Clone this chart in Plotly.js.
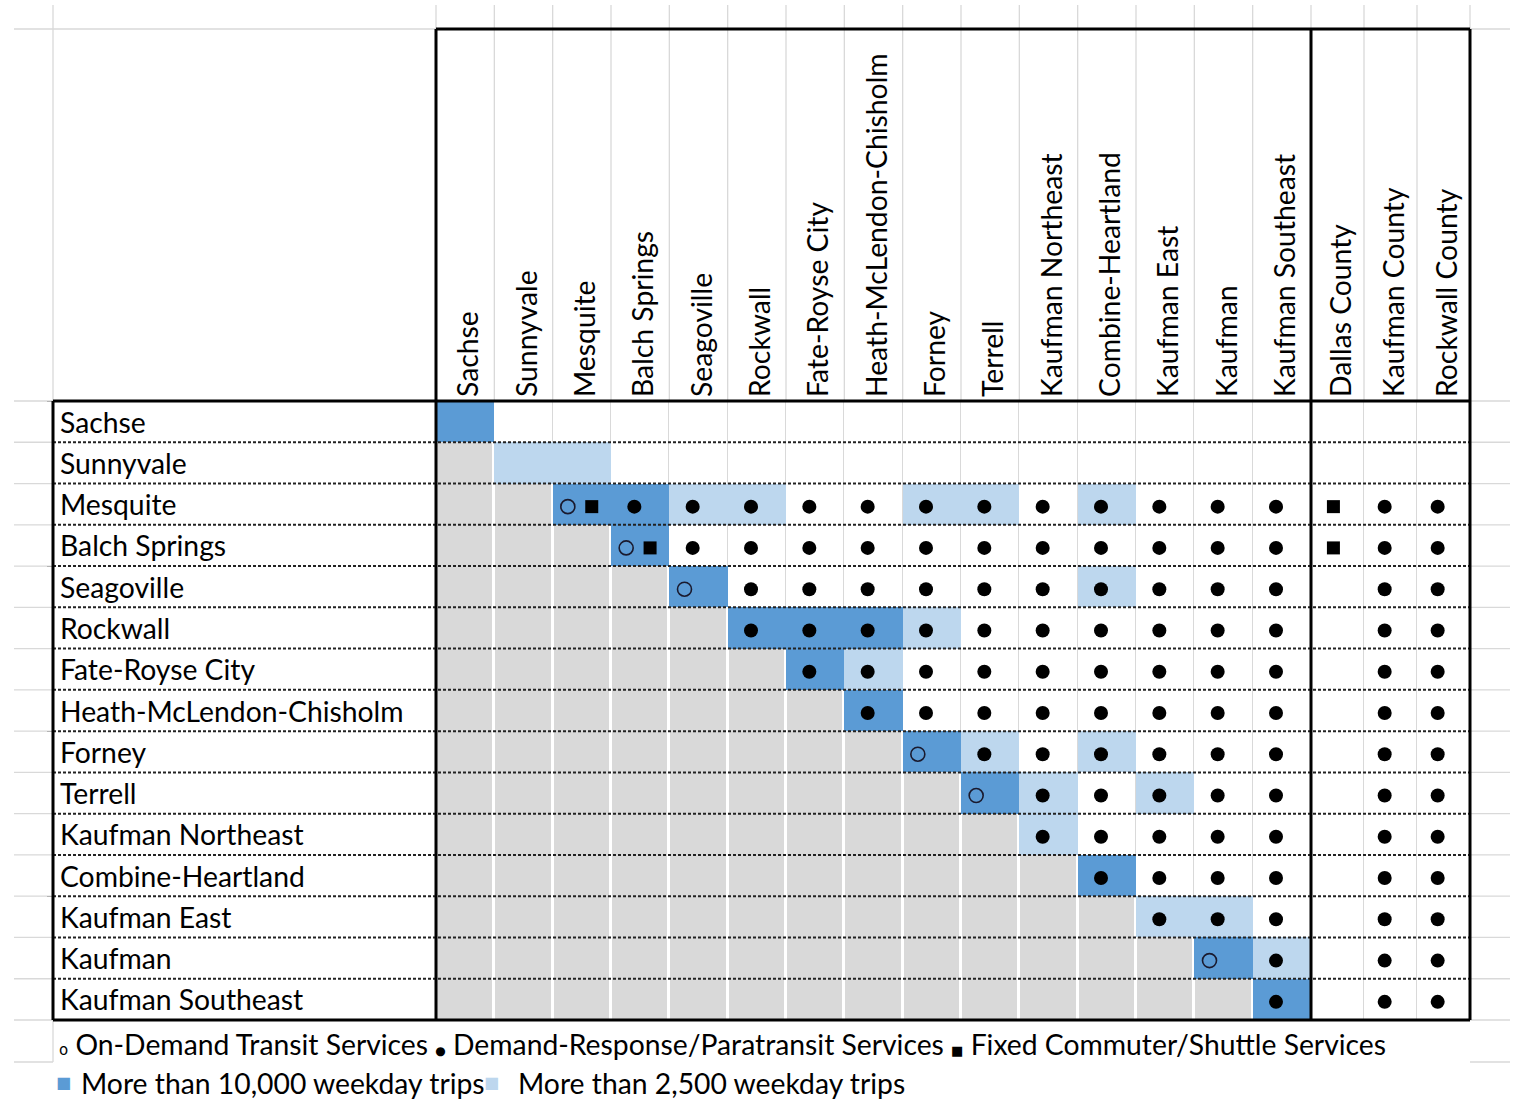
<!DOCTYPE html>
<html><head><meta charset="utf-8">
<script src="https://cdn.plot.ly/plotly-3.0.1.min.js"></script>
<style>html,body{margin:0;padding:0;background:#fff}#chart{width:1519px;height:1100px}</style>
</head><body><div id="chart"></div>
<script>
// ---------------- DATA ----------------
const rowLabels = ['Sachse','Sunnyvale','Mesquite','Balch Springs','Seagoville','Rockwall','Fate-Royse City',
  'Heath-McLendon-Chisholm','Forney','Terrell','Kaufman Northeast','Combine-Heartland','Kaufman East','Kaufman','Kaufman Southeast'];
const countyLabels = ['Dallas County','Kaufman County','Rockwall County'];
const colLabels = rowLabels.concat(countyLabels);

// 0 = none, 1 = more than 2,500 weekday trips, 2 = more than 10,000 weekday trips
const tripLevels = [
  [2,0,0,0,0,0,0,0,0,0,0,0,0,0,0, 0,0,0],
  [0,1,1,0,0,0,0,0,0,0,0,0,0,0,0, 0,0,0],
  [0,0,2,2,1,1,0,0,1,1,0,1,0,0,0, 0,0,0],
  [0,0,0,2,0,0,0,0,0,0,0,0,0,0,0, 0,0,0],
  [0,0,0,0,2,0,0,0,0,0,0,1,0,0,0, 0,0,0],
  [0,0,0,0,0,2,2,2,1,0,0,0,0,0,0, 0,0,0],
  [0,0,0,0,0,0,2,1,0,0,0,0,0,0,0, 0,0,0],
  [0,0,0,0,0,0,0,2,0,0,0,0,0,0,0, 0,0,0],
  [0,0,0,0,0,0,0,0,2,1,0,1,0,0,0, 0,0,0],
  [0,0,0,0,0,0,0,0,0,2,1,0,1,0,0, 0,0,0],
  [0,0,0,0,0,0,0,0,0,0,1,0,0,0,0, 0,0,0],
  [0,0,0,0,0,0,0,0,0,0,0,2,0,0,0, 0,0,0],
  [0,0,0,0,0,0,0,0,0,0,0,0,1,1,0, 0,0,0],
  [0,0,0,0,0,0,0,0,0,0,0,0,0,2,1, 0,0,0],
  [0,0,0,0,0,0,0,0,0,0,0,0,0,0,2, 0,0,0]
];

// o = On-Demand Transit, d = Demand-Response/Paratransit, s = Fixed Commuter/Shuttle
const services = [
  ['','','','','','','','','','','','','','','', '','',''],
  ['','','','','','','','','','','','','','','', '','',''],
  ['','','os','d','d','d','d','d','d','d','d','d','d','d','d', 's','d','d'],
  ['','','','os','d','d','d','d','d','d','d','d','d','d','d', 's','d','d'],
  ['','','','','o','d','d','d','d','d','d','d','d','d','d', '','d','d'],
  ['','','','','','d','d','d','d','d','d','d','d','d','d', '','d','d'],
  ['','','','','','','d','d','d','d','d','d','d','d','d', '','d','d'],
  ['','','','','','','','d','d','d','d','d','d','d','d', '','d','d'],
  ['','','','','','','','','o','d','d','d','d','d','d', '','d','d'],
  ['','','','','','','','','','o','d','d','d','d','d', '','d','d'],
  ['','','','','','','','','','','d','d','d','d','d', '','d','d'],
  ['','','','','','','','','','','','d','d','d','d', '','d','d'],
  ['','','','','','','','','','','','','d','d','d', '','d','d'],
  ['','','','','','','','','','','','','','o','d', '','d','d'],
  ['','','','','','','','','','','','','','','d', '','d','d']
];

const serviceLegend = ['On-Demand Transit Services','Demand-Response/Paratransit Services','Fixed Commuter/Shuttle Services'];
const tripLegend = ['More than 10,000 weekday trips','More than 2,500 weekday trips'];

// ---------------- STYLE / LAYOUT ----------------
const DARK = '#5b9bd5', LIGHT = '#bdd7ee', GREY = '#d9d9d9', GRID = '#d9d9d9', WHITE = '#ffffff';
const FONT = 'Lato, "Open Sans", sans-serif';
const FS = 28.3;
const W = 1519, H = 1100;
const M = {l: 53, r: 49, t: 401, b: 80};
const plotW = W - M.l - M.r, plotH = H - M.t - M.b;
const nCity = rowLabels.length;
const pxU = 875 / nCity;            // pixels per city column
const labelW = 383 / pxU;           // label column width in column units
const countyW = 53 / pxU;           // county column width in column units
const xEdges = [];
for (let j = 0; j <= nCity; j++) xEdges.push(j);
for (let k = 1; k <= countyLabels.length; k++) xEdges.push(nCity + k * countyW);
const xMin = -labelW, xMax = xEdges[xEdges.length - 1];
const yEdges = [];
for (let i = 0; i <= rowLabels.length; i++) yEdges.push(i);
const nRow = rowLabels.length;

const colCenter = j => (xEdges[j] + xEdges[j + 1]) / 2;
const pxX = px => (px - M.l) / plotW;          // pixel -> paper x
const pxY = px => (M.t + plotH - px) / plotH;  // pixel -> paper y
const dX = x => (x - xMin) / (xMax - xMin);     // data x -> paper x
const dY = y => 1 - y / nRow;                   // data y -> paper y

const isGrey = (i, j) => j < nCity && j < i;

const zBase = [], zWhite = [], zGrey = [], zColor = [];
for (let i = 0; i < nRow; i++) {
  zBase.push([]); zWhite.push([]); zGrey.push([]); zColor.push([]);
  for (let j = 0; j < colLabels.length; j++) {
    const g = isGrey(i, j), lv = tripLevels[i][j];
    zBase[i].push(g ? 1 : 0);
    zGrey[i].push(g ? 1 : null);
    zWhite[i].push(!g && lv === 0 ? 1 : null);
    zColor[i].push(!g && lv > 0 ? lv : null);
  }
}
const flat = c => [[0, c], [1, c]];
const hm = (z, cs, gap, extra) => Object.assign({
  type: 'heatmap', x: xEdges, y: yEdges, z: z, colorscale: cs, showscale: false,
  xgap: gap, ygap: 0, hoverinfo: 'skip', zsmooth: false
}, extra || {});

const traces = [
  hm(zBase, [[0, GRID], [0.5, GRID], [0.5, WHITE], [1, WHITE]], 0, {zmin: 0, zmax: 1}),
  hm(zWhite, flat(WHITE), 1, {zmin: 0, zmax: 1}),
  hm(zGrey, flat(GREY), 3, {zmin: 0, zmax: 1}),
  hm(zColor, [[0, LIGHT], [0.5, LIGHT], [0.5, DARK], [1, DARK]], 0, {zmin: 1, zmax: 2})
];

// marker offsets (column units) and vertical offset (row units)
const OFF = {d: -0.10, o: -0.24, sPair: 0.17, s: -0.07};
const YOFF = 0.06;
const pts = {d: {x: [], y: []}, o: {x: [], y: []}, s: {x: [], y: []}};
services.forEach((row, i) => row.forEach((code, j) => {
  const cx = colCenter(j), cy = i + 0.5 + YOFF;
  if (code.includes('o')) { pts.o.x.push(cx + OFF.o); pts.o.y.push(cy); }
  if (code.includes('d')) { pts.d.x.push(cx + OFF.d); pts.d.y.push(cy); }
  if (code.includes('s')) { pts.s.x.push(cx + (code.length > 1 ? OFF.sPair : OFF.s)); pts.s.y.push(cy); }
}));
traces.push({type: 'scatter', mode: 'markers', x: pts.d.x, y: pts.d.y, hoverinfo: 'skip',
  marker: {symbol: 'circle', size: 14, color: '#000'}});
traces.push({type: 'scatter', mode: 'markers', x: pts.o.x, y: pts.o.y, hoverinfo: 'skip',
  marker: {symbol: 'circle-open', size: 14, color: '#1a1a2e', line: {width: 1.6, color: '#1a1a2e'}}});
traces.push({type: 'scatter', mode: 'markers', x: pts.s.x, y: pts.s.y, hoverinfo: 'skip',
  marker: {symbol: 'square', size: 13, color: '#000'}});

// ---------- decoration shapes ----------
const shapes = [];
const line = (x0, y0, x1, y1, color, width, dash) => shapes.push({
  type: 'line', xref: 'paper', yref: 'paper', x0: x0, y0: y0, x1: x1, y1: y1, layer: 'above',
  line: {color: color, width: width, dash: dash || 'solid'}
});
// sheet gridlines outside the table
const gl = '#d9d9d9';
[M.l].concat(xEdges.map(x => M.l + (x - xMin) * pxU)).forEach(px => line(pxX(px), pxY(5), pxX(px), pxY(401), gl, 1.3));
line(0, pxY(1020), 0, pxY(1062), gl, 1.3);
[29, 401, 1020].forEach(py => line(pxX(14), pxY(py), pxX(1510), pxY(py), gl, 1.3));
yEdges.slice(1, -1).map(dY).concat([pxY(1062)]).forEach(py => {
  line(pxX(14), py, 0, py, gl, 1.3);
  line(1, py, pxX(1510), py, gl, 1.3);
});
// dotted row separators
yEdges.slice(1, -1).forEach(y => line(0, dY(y), 1, dY(y), '#222', 2, '3px,2px'));
// thick borders
const BK = '#000', BW = 3;
line(dX(0), pxY(29), 1, pxY(29), BK, BW);
line(0, 1, 1, 1, BK, BW);
line(0, 0, 1, 0, BK, BW);
line(0, 0, 0, 1, BK, BW);
line(dX(0), 0, dX(0), pxY(29), BK, BW);
line(dX(nCity), 0, dX(nCity), pxY(29), BK, BW);
line(1, 0, 1, pxY(29), BK, BW);

// ---------- annotations ----------
const annotations = rowLabels.map((t, i) => ({
  xref: 'paper', yref: 'y', x: pxX(58), y: i + 0.5, text: t, showarrow: false,
  xanchor: 'left', yanchor: 'middle', font: {family: FONT, size: FS, color: '#000'}
}));
const sym = (ch, sz) => `<span style="font-size:${sz}px;font-family:'DejaVu Sans'">${ch}</span>`;
annotations.push({
  xref: 'paper', yref: 'paper', x: pxX(57), y: pxY(1044), xanchor: 'left', yanchor: 'middle', showarrow: false,
  font: {family: FONT, size: FS, color: '#000'},
  text: sym('o', 15) + ' ' + serviceLegend[0] + ' ' + sym('●', 12) + ' ' + serviceLegend[1] + ' ' + sym('■', 13) + ' ' + serviceLegend[2]
});
annotations.push({xref: 'paper', yref: 'paper', x: pxX(54), y: pxY(1082), xanchor: 'left', yanchor: 'middle', showarrow: false,
  font: {family: 'DejaVu Sans', size: 16, color: DARK}, text: '■'});
annotations.push({xref: 'paper', yref: 'paper', x: pxX(79), y: pxY(1083), xanchor: 'left', yanchor: 'middle', showarrow: false,
  font: {family: FONT, size: FS, color: '#000'}, text: tripLegend[0]});
annotations.push({xref: 'paper', yref: 'paper', x: pxX(482), y: pxY(1082), xanchor: 'left', yanchor: 'middle', showarrow: false,
  font: {family: 'DejaVu Sans', size: 16, color: LIGHT}, text: '■'});
annotations.push({xref: 'paper', yref: 'paper', x: pxX(516), y: pxY(1083), xanchor: 'left', yanchor: 'middle', showarrow: false,
  font: {family: FONT, size: FS, color: '#000'}, text: tripLegend[1]});

const layout = {
  width: W, height: H, margin: M, paper_bgcolor: '#fff', plot_bgcolor: '#fff', showlegend: false,
  xaxis: {range: [xMin, xMax], side: 'top', showgrid: false, zeroline: false, showline: false,
    tickvals: colLabels.map((_, j) => colCenter(j) + 0.07), ticktext: colLabels, tickangle: -90, ticks: '',
    ticklabelstandoff: 3,
    tickfont: {family: FONT, size: FS, color: '#000'}, fixedrange: true},
  yaxis: {range: [nRow, 0], showgrid: false, zeroline: false, showticklabels: false, showline: false, fixedrange: true},
  shapes: shapes, annotations: annotations
};
Plotly.newPlot('chart', traces, layout, {displayModeBar: false, staticPlot: true});
</script></body></html>
